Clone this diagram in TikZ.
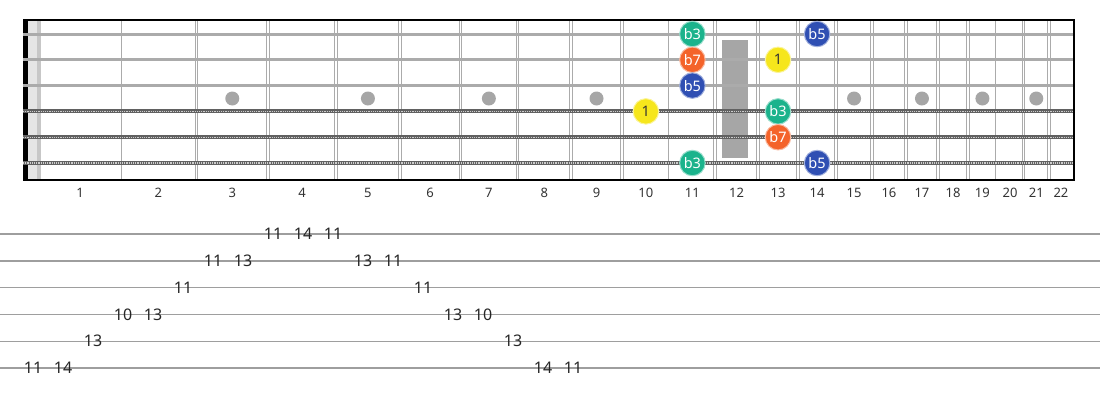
\documentclass[tikz,border=0pt]{standalone}
\usepackage{fontspec}
\setmainfont{Noto Sans}
\usetikzlibrary{positioning}
\definecolor{degthreecol}{HTML}{1BB38C}
\definecolor{degsevencol}{HTML}{F4632A}
\definecolor{degfivecol}{HTML}{2F4FB3}
\definecolor{degrootcol}{HTML}{F6E61C}
\definecolor{inlaycol}{HTML}{A6A6A6}
% position of fret #1 along the board
\newcommand{\fretpos}[1]{(40+1436*(1-pow(2,-(#1)/12)))}
\tikzset{
  fretline/.style={draw=black!33,double=white,double distance=1.6pt,line width=0.9pt},
  plainstring/.style={draw=black!33,line width=3pt},
  woundbase/.style={draw=black!62,line width=4pt},
  woundwrap/.style={draw=black!20,line width=1.4pt,dash pattern=on 1.1pt off 1.1pt},
  tabline/.style={draw=black!38,line width=1.4pt},
  fretnum/.style={font=\fontsize{13}{13}\selectfont,text=black!80,inner sep=0pt},
  tabnum/.style={font=\fontsize{16}{16}\selectfont,text=black!85,inner sep=0pt},
  note/.style={circle,minimum size=25.5pt,inner sep=0pt,line width=1pt,
    font=\fontsize{14.5}{14.5}\selectfont},
  degthree/.style={note,fill=degthreecol,draw=degthreecol!45!white,text=white},
  degseven/.style={note,fill=degsevencol,draw=degsevencol!45!white,text=white},
  degfive/.style={note,fill=degfivecol,draw=degfivecol!45!white,text=white},
  degroot/.style={note,fill=degrootcol,draw=degrootcol!45!white,text=black!80},
}
\begin{document}
\begin{tikzpicture}[x=1pt,y=-1pt]
\useasboundingbox (0,0) rectangle (1100,400);
% nut and board
\fill[black!10] (28,20) rectangle (37,180);
\fill[black!22] (37,20) rectangle (41,180);
\fill[black] (23,20) rectangle (28,180);
% frets
\foreach \k in {1,...,21} {
  \pgfmathsetmacro\fx{\fretpos{\k}}
  \draw[fretline] (\fx,20) -- (\fx,180);
}
% inlays
\foreach \k in {3,5,7,9,15,17,19,21} {
  \pgfmathsetmacro\nx{(\fretpos{\k-1}+\fretpos{\k})/2}
  \fill[inlaycol] (\nx,98.5) circle (7);
}
\fill[inlaycol] (722,40) rectangle (748,158);
% strings
\foreach \s in {1,2,3} {
  \pgfmathsetmacro\sy{34+25.8*(\s-1)}
  \draw[plainstring] (23,\sy) -- (1074,\sy);
}
\foreach \s in {4,5,6} {
  \pgfmathsetmacro\sy{34+25.8*(\s-1)}
  \draw[woundbase] (23,\sy) -- (1074,\sy);
  \draw[woundwrap] (23,\sy) -- (1074,\sy);
}
% border
\draw[line width=1.6pt] (23,20) -- (1074,20);
\draw[line width=1.6pt] (23,180) -- (1074,180);
\draw[line width=1.8pt] (1074,19.2) -- (1074,180.8);
% fret numbers
\foreach \k in {1,...,22} {
  \pgfmathsetmacro\nx{(\fretpos{\k-1}+\fretpos{\k})/2}
  \node (fn\k) [fretnum] at (\nx,193) {\k};
}
% notes
\foreach \s/\f/\deg/\sty in {1/11/b3/degthree,1/14/b5/degfive,2/11/b7/degseven,
    2/13/1/degroot,3/11/b5/degfive,4/10/1/degroot,4/13/b3/degthree,
    5/13/b7/degseven,6/11/b3/degthree,6/14/b5/degfive} {
  \pgfmathsetmacro\nx{(\fretpos{\f-1}+\fretpos{\f})/2}
  \pgfmathsetmacro\sy{34+25.8*(\s-1)}
  \node (n\s-\f) [\sty] at (\nx,\sy) {\deg};
}
% tab
\foreach \s in {1,...,6} {
  \pgfmathsetmacro\ty{234+26.8*(\s-1)}
  \draw[tabline] (0,\ty) -- (1100,\ty);
}
\foreach \s/\f [count=\i from 0] in {6/11,6/14,5/13,4/10,4/13,3/11,2/11,2/13,
    1/11,1/14,1/11,2/13,2/11,3/11,4/13,4/10,5/13,6/14,6/11} {
  \node (t\i) [tabnum] at ({33+30*\i},{234+26.8*(\s-1)}) {\f};
}
\end{tikzpicture}
\end{document}
